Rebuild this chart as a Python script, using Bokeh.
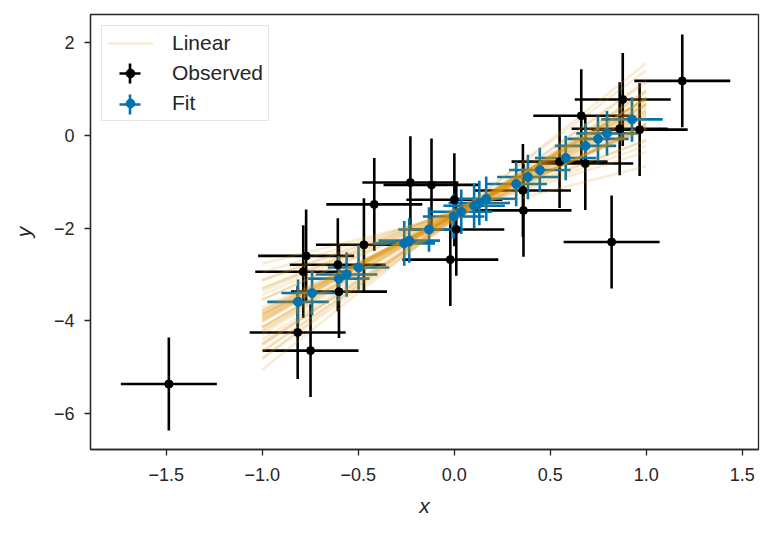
from bokeh.plotting import figure
from bokeh.models import (FixedTicker, CustomJSTickFormatter, Legend, LegendItem, Range1d,
                          BoxAnnotation)
from bokeh.embed import file_html
from bokeh.resources import INLINE

# ---- data ----
obs_x = [-1.486, -0.771, -0.786, -0.606, -0.600, -0.470, -0.815, -0.748,
         -0.228, -0.118, -0.416, 0.001, 0.011, -0.020, 0.662, 0.549,
         0.683, 0.358, 0.361, 1.188, 0.878, 0.862, 0.966, 0.820]
obs_y = [-5.36, -2.60, -2.94, -2.79, -3.37, -2.36, -4.25, -4.64,
         -1.02, -1.07, -1.49, -1.39, -2.03, -2.68, 0.42, -0.57,
         -0.61, -1.19, -1.62, 1.17, 0.77, 0.14, 0.12, -2.30]
obs_xerr = 0.25
obs_yerr = 1.0

fit_x = [-0.813, -0.740, -0.601, -0.560, -0.498, -0.260, -0.234, -0.131,
         -0.003, 0.037, 0.104, 0.131, 0.167, 0.323, 0.384, 0.446,
         0.581, 0.684, 0.749, 0.796, 0.926]
fit_y = [-3.59, -3.40, -3.09, -3.00, -2.85, -2.33, -2.27, -2.03,
         -1.75, -1.65, -1.52, -1.46, -1.37, -1.05, -0.90, -0.75,
         -0.49, -0.23, -0.08, 0.04, 0.34]
fit_xerr = 0.16
fit_yerr = 0.48

line_x = [-1.0, 1.0]
intercepts = [-1.72, -1.65, -1.80, -1.70, -1.75, -1.60, -1.85, -1.68, -1.78, -1.73,
              -1.62, -1.82, -1.70, -1.66, -1.76, -1.79, -1.71, -1.64, -1.74, -1.69,
              -1.72, -1.75, -1.81, -1.63, -1.70, -1.77, -1.67, -1.73, -1.69, -1.84,
              -1.66, -1.74, -1.71, -1.78, -1.61, -1.76, -1.72, -1.70, -1.68, -1.74]
slopes = [2.25, 1.90, 2.60, 2.10, 2.40, 1.70, 2.80, 2.30, 2.00, 2.50,
          1.50, 3.00, 2.20, 2.35, 1.95, 2.70, 2.15, 1.80, 2.55, 2.45,
          1.05, 3.30, 2.05, 2.30, 1.60, 2.90, 2.20, 2.40, 1.85, 2.65,
          1.30, 2.10, 2.50, 2.75, 1.75, 2.00, 2.30, 3.10, 1.45, 2.20]

x_ticks = [-1.5, -1.0, -0.5, 0.0, 0.5, 1.0, 1.5]
y_ticks = [-6, -4, -2, 0, 2]

BLUE = "#0173B2"
ORANGE = "#DE8F05"
DARK = "#262626"
FONT = "Liberation Sans"

p = figure(width=766, height=525, output_backend="svg", toolbar_location=None,
           x_range=Range1d(-1.894, 1.585), y_range=Range1d(-6.77, 2.60))
p.min_border_left = 90
p.min_border_right = 8
p.min_border_top = 14
p.min_border_bottom = 76
p.background_fill_color = "white"
p.border_fill_color = "white"
p.outline_line_color = DARK
p.outline_line_width = 1.3
p.grid.visible = False

# error bars
p.segment(x0=[x - obs_xerr for x in obs_x], x1=[x + obs_xerr for x in obs_x],
          y0=obs_y, y1=obs_y, line_color="black", line_width=2.6)
p.segment(x0=obs_x, x1=obs_x, y0=[y - obs_yerr for y in obs_y],
          y1=[y + obs_yerr for y in obs_y], line_color="black", line_width=2.6)
p.segment(x0=[x - fit_xerr for x in fit_x], x1=[x + fit_xerr for x in fit_x],
          y0=fit_y, y1=fit_y, line_color=BLUE, line_width=2.6)
p.segment(x0=fit_x, x1=fit_x, y0=[y - fit_yerr for y in fit_y],
          y1=[y + fit_yerr for y in fit_y], line_color=BLUE, line_width=2.6)

# regression lines
xs = [line_x for _ in slopes]
ys = [[a + b * x for x in line_x] for a, b in zip(intercepts, slopes)]
lines_r = p.multi_line(xs=xs, ys=ys, line_color=ORANGE, line_alpha=0.17, line_width=2.5)

# markers
p.scatter(obs_x, obs_y, size=8, fill_color="black", line_color="black")
p.scatter(fit_x, fit_y, size=9, fill_color=BLUE, line_color=BLUE)

# legend dot glyphs (drawn hidden on top of an existing point)
lo_dot = p.scatter(obs_x[:1], obs_y[:1], size=8, fill_color="black", line_color="black")
lf_dot = p.scatter(fit_x[:1], fit_y[:1], size=9, fill_color=BLUE, line_color=BLUE)

legend = Legend(items=[
    LegendItem(label="Linear", renderers=[lines_r]),
    LegendItem(label="Observed", renderers=[lo_dot]),
    LegendItem(label="Fit", renderers=[lf_dot]),
], location="top_left")
legend.glyph_width = 46
legend.glyph_height = 22
legend.label_standoff = 19
legend.padding = 5
legend.spacing = 6
legend.margin = 11
legend.border_line_color = "#cccccc"
legend.border_line_width = 1.2
legend.background_fill_color = None
legend.label_text_font = FONT
legend.label_text_font_size = "21px"
legend.label_text_color = DARK
p.add_layout(legend)

# error-bar style crosses for the legend keys (screen units, frame-relative)
def legend_cross(cx, cy, color):
    half_w, half_h, t = 10.5, 10.0, 1.3
    for l, r, b, tp in ((cx - half_w, cx + half_w, cy - t, cy + t),
                        (cx - t, cx + t, cy - half_h, cy + half_h)):
        p.add_layout(BoxAnnotation(left=l, right=r, bottom=b, top=tp,
                                   left_units="screen", right_units="screen",
                                   bottom_units="screen", top_units="screen",
                                   fill_color=color, fill_alpha=1.0, line_color=None,
                                   level="overlay"))

legend_cross(39.5, 376, "black")
legend_cross(39.5, 345, BLUE)

# axes
for ax in (p.xaxis[0], p.yaxis[0]):
    ax.axis_line_color = DARK
    ax.axis_line_width = 1.3
    ax.major_tick_line_color = DARK
    ax.major_tick_line_width = 1.3
    ax.major_tick_out = 6
    ax.major_tick_in = 0
    ax.minor_tick_line_color = None
    ax.major_label_text_font = FONT
    ax.major_label_text_font_size = "18px"
    ax.major_label_text_color = DARK
    ax.axis_label_text_font = FONT
    ax.axis_label_text_font_size = "21px"
    ax.axis_label_text_font_style = "italic"
    ax.axis_label_text_color = DARK

p.xaxis.major_label_standoff = 12
p.yaxis.major_label_standoff = 10
p.xaxis.ticker = FixedTicker(ticks=x_ticks)
p.yaxis.ticker = FixedTicker(ticks=y_ticks)
p.xaxis.formatter = CustomJSTickFormatter(
    code="return (tick < 0 ? '\u2212' : '') + Math.abs(tick).toFixed(1);")
p.yaxis.formatter = CustomJSTickFormatter(
    code="return (tick < 0 ? '\u2212' : '') + Math.abs(tick).toFixed(0);")
p.xaxis.axis_label = "x"
p.yaxis.axis_label = "y"
p.xaxis.axis_label_standoff = 10
p.yaxis.axis_label_standoff = 16

open("out.html", "w").write(file_html(p, INLINE))
